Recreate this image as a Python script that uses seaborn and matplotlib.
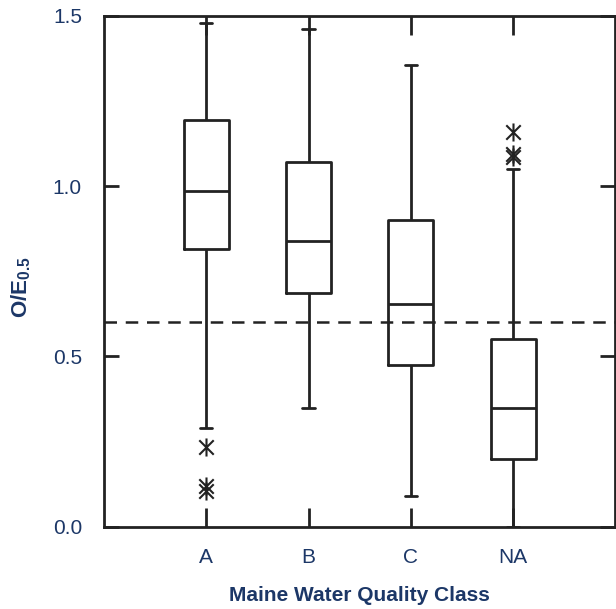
import pandas as pd
import matplotlib
matplotlib.use("Agg")
import matplotlib.pyplot as plt
from matplotlib.path import Path
import seaborn as sns

# Box summary per class
classes = ["A", "B", "C", "NA"]
whisker_low = [0.29, 0.35, 0.09, 0.00]
q1 = [0.815, 0.685, 0.475, 0.20]
median = [0.985, 0.84, 0.655, 0.35]
q3 = [1.195, 1.07, 0.90, 0.55]
whisker_high = [1.48, 1.46, 1.355, 1.05]

# Outliers
outlier_class = ["A", "A", "A", "NA", "NA", "NA"]
outlier_value = [0.235, 0.12, 0.105, 1.16, 1.095, 1.085]

threshold = 0.6

# five-number rows -> with whis=(0, 100) the box is drawn exactly from these
rows = []
for i, c in enumerate(classes):
    for v in (whisker_low[i], q1[i], median[i], q3[i], whisker_high[i]):
        rows.append({"Class": c, "OE": v})
df = pd.DataFrame(rows)
out_df = pd.DataFrame({"Class": outlier_class, "OE": outlier_value})

sns.set_style("white")
plt.rcParams["font.family"] = ["Liberation Sans", "DejaVu Sans"]
plt.rcParams["mathtext.fontset"] = "custom"
plt.rcParams["mathtext.rm"] = "Liberation Sans:bold"
plt.rcParams["mathtext.bf"] = "Liberation Sans:bold"

navy = "#1c3767"
ink = "#222222"

fig = plt.figure(figsize=(6.16, 6.09), dpi=100)
ax = fig.add_axes([0.169, 0.135, 0.830, 0.839])

sns.boxplot(data=df, x="Class", y="OE", order=classes, whis=(0, 100),
            width=0.44, fill=False, color=ink, linewidth=2.0,
            capwidths=0.12, ax=ax)

asterisk = Path([(0, -1), (0, 1), (-0.8, -0.8), (0.8, 0.8), (-0.8, 0.8), (0.8, -0.8)],
                [Path.MOVETO, Path.LINETO, Path.MOVETO, Path.LINETO, Path.MOVETO, Path.LINETO])
sns.stripplot(data=out_df, x="Class", y="OE", order=classes, jitter=False,
              marker=asterisk, size=13, color=ink, edgecolor=ink,
              linewidth=1.5, ax=ax)

ax.axhline(threshold, color=ink, linestyle=(0, (5, 3.5)), linewidth=1.8)

ax.set_xlim(-1, 4)
ax.set_ylim(0, 1.5)
ax.set_yticks([0.0, 0.5, 1.0, 1.5])
ax.set_yticklabels(["0.0", "0.5", "1.0", "1.5"])

for s in ax.spines.values():
    s.set_visible(True)
    s.set_color(ink)
    s.set_linewidth(2.0)

ax.tick_params(axis="x", direction="in", length=14, width=2.0, color=ink,
               top=True, bottom=True, labelsize=15, labelcolor=navy, pad=15)
ax.tick_params(axis="y", direction="in", length=11, width=2.0, color=ink,
               left=True, right=True, labelsize=15, labelcolor=navy, pad=16)

ax.set_xlabel("Maine Water Quality Class", fontsize=15, fontweight="bold",
              color=navy, labelpad=14)
ax.set_ylabel(r"O/E$_{0.5}$", fontsize=16, fontweight="bold", color=navy)
ax.yaxis.set_label_coords(-0.14, 0.47)

fig.savefig("out.png", dpi=100)
